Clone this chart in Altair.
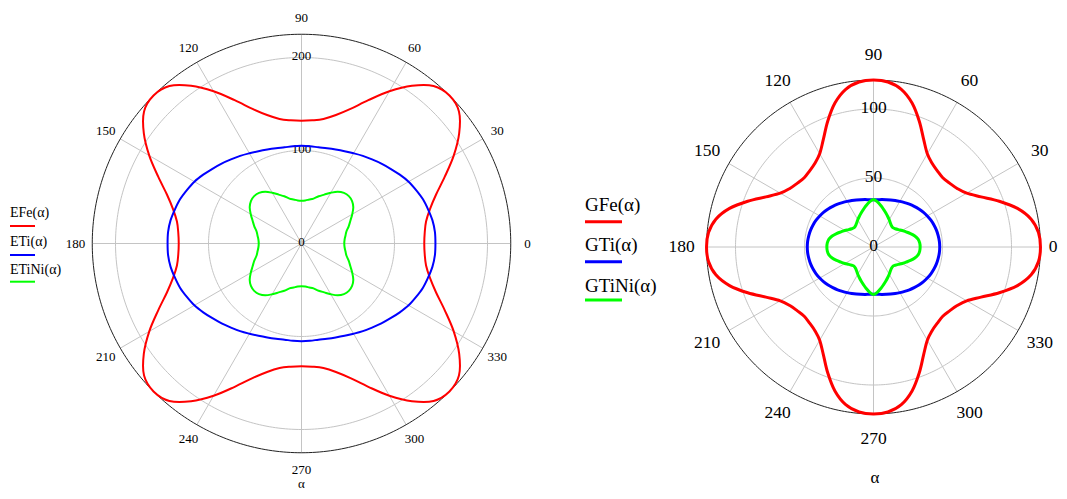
import altair as alt
import pandas as pd

# ---------------- data ----------------
angle_deg = list(range(0, 360, 5))

EFe = [132, 133, 136, 143, 154, 170, 189, 207, 221, 225, 221, 207, 189, 170, 154, 143, 136, 133,
       132, 133, 136, 143, 154, 170, 189, 207, 221, 225, 221, 207, 189, 170, 154, 143, 136, 133,
       132, 133, 136, 143, 154, 170, 189, 207, 221, 225, 221, 207, 189, 170, 154, 143, 136, 133,
       132, 133, 136, 143, 154, 170, 189, 207, 221, 225, 221, 207, 189, 170, 154, 143, 136, 133]

ETi = [144, 144, 143, 141, 139, 136, 133, 129, 125, 121.5, 118, 115, 112, 109.5, 107.5, 106, 105, 105,
       105, 105, 105, 106, 107.5, 109.5, 112, 115, 118, 121.5, 125, 129, 133, 136, 139, 141, 143, 144,
       144, 144, 143, 141, 139, 136, 133, 129, 125, 121.5, 118, 115, 112, 109.5, 107.5, 106, 105, 105,
       105, 105, 105, 106, 107.5, 109.5, 112, 115, 118, 121.5, 125, 129, 133, 136, 139, 141, 143, 144]

ETiNi = [46, 46.5, 48, 50, 54, 58, 63, 68, 71, 72, 71, 68, 63, 58, 54, 50, 48, 46.5,
         46, 46.5, 48, 50, 54, 58, 63, 68, 71, 72, 71, 68, 63, 58, 54, 50, 48, 46.5,
         46, 46.5, 48, 50, 54, 58, 63, 68, 71, 72, 71, 68, 63, 58, 54, 50, 48, 46.5,
         46, 46.5, 48, 50, 54, 58, 63, 68, 71, 72, 71, 68, 63, 58, 54, 50, 48, 46.5]

GFe = [121, 120, 116, 108, 97, 86, 78, 74, 72, 71, 72, 74, 78, 86, 97, 108, 116, 120,
       121, 120, 116, 108, 97, 86, 78, 74, 72, 71, 72, 74, 78, 86, 97, 108, 116, 120,
       121, 120, 116, 108, 97, 86, 78, 74, 72, 71, 72, 74, 78, 86, 97, 108, 116, 120,
       121, 120, 116, 108, 97, 86, 78, 74, 72, 71, 72, 74, 78, 86, 97, 108, 116, 120]

GTi = [48, 47.9, 47.6, 47.2, 46.6, 45.9, 45, 44, 42.9, 41.7, 40.5, 39.3, 38.2, 37.2, 36.3, 35.5, 34.9, 34.4,
       34.2, 34.4, 34.9, 35.5, 36.3, 37.2, 38.2, 39.3, 40.5, 41.7, 42.9, 44, 45, 45.9, 46.6, 47.2, 47.6, 47.9,
       48, 47.9, 47.6, 47.2, 46.6, 45.9, 45, 44, 42.9, 41.7, 40.5, 39.3, 38.2, 37.2, 36.3, 35.5, 34.9, 34.4,
       34.2, 34.4, 34.9, 35.5, 36.3, 37.2, 38.2, 39.3, 40.5, 41.7, 42.9, 44, 45, 45.9, 46.6, 47.2, 47.6, 47.9]

GTiNi = [33.8, 33.6, 32.8, 31, 28.5, 26, 24, 22, 20.6, 19.8, 20.2, 21.3, 22.8, 24.4, 26.2, 28.2, 30.5, 32.8,
         34.4, 32.8, 30.5, 28.2, 26.2, 24.4, 22.8, 21.3, 20.2, 19.8, 20.6, 22, 24, 26, 28.5, 31, 32.8, 33.6,
         33.8, 33.6, 32.8, 31, 28.5, 26, 24, 22, 20.6, 19.8, 20.2, 21.3, 22.8, 24.4, 26.2, 28.2, 30.5, 32.8,
         34.4, 32.8, 30.5, 28.2, 26.2, 24.4, 22.8, 21.3, 20.2, 19.8, 20.6, 22, 24, 26, 28.5, 31, 32.8, 33.6]

left_names = ["EFe(α)", "ETi(α)", "ETiNi(α)"]
right_names = ["GFe(α)", "GTi(α)", "GTiNi(α)"]
series_colors = ["#ff0000", "#0000ff", "#00ff00"]

angle_ticks = list(range(0, 360, 30))
left_rings = [100, 200]
right_rings = [50, 100]
left_rlabels = [0, 100, 200]
right_rlabels = [0, 50, 100]
left_rmax = 225
right_rmax = 121

# ---------------- layout / style ----------------
FONT = "Liberation Serif"
H = 483
GRID = "#c4c4c4"

left_cfg = dict(W=562, k=0.93, cx=293.5, cy=235.5, lw=2, label_px=226, fs=13, rdy=-2,
                lfs=14, lgx=2, lgx2=27, lty=[205, 233.7, 262], lly=[218, 247, 273.7], llw=2,
                ax=293.5, ay=483, abase="bottom", afs=13)
right_cfg = dict(W=489, k=1.38, cx=303.5, cy=239, lw=3, label_px=192, fs=17.5, rdy=-1,
                 lfs=19, lgx=15, lgx2=52, lty=[197, 237, 278], lly=[213.7, 253.7, 292], llw=3,
                 ax=305, ay=470, abase="middle", afs=17)


def panel(names, series, rmax, rings, rlabels, cfg):
    W, k, cx, cy = cfg["W"], cfg["k"], cfg["cx"], cfg["cy"]
    xs = alt.Scale(domain=[-cx / k, (W - cx) / k], nice=False, zero=False)
    ys = alt.Scale(domain=[-(H - cy) / k, cy / k], nice=False, zero=False)
    X = alt.X("x:Q", scale=xs, axis=None)
    Y = alt.Y("y:Q", scale=ys, axis=None)

    def circle(r, color, width):
        return alt.Chart(alt.sequence(0, 361, 1, as_="a")).transform_calculate(
            x=f"{r}*cos(datum.a*PI/180)", y=f"{r}*sin(datum.a*PI/180)"
        ).mark_line(color=color, strokeWidth=width).encode(x=X, y=Y, order="a:Q")

    layers = [circle(r, GRID, 1) for r in rings]

    spokes = alt.Chart(pd.DataFrame({"deg": angle_ticks})).transform_calculate(
        x="0", y="0",
        x2=f"{rmax}*cos(datum.deg*PI/180)", y2=f"{rmax}*sin(datum.deg*PI/180)"
    ).mark_rule(color=GRID, strokeWidth=1).encode(x=X, y=Y, x2="x2:Q", y2="y2:Q")
    layers.append(spokes)
    layers.append(circle(rmax, "#222222", 1))

    lr = cfg["label_px"] / k
    xlim = (W - cx - 6) / k  # keep the angle labels inside the panel
    alabels = alt.Chart(pd.DataFrame({"deg": angle_ticks})).transform_calculate(
        x=f"min({lr}*cos(datum.deg*PI/180), {xlim})", y=f"{lr}*sin(datum.deg*PI/180)"
    ).mark_text(font=FONT, fontSize=cfg["fs"], align="center", baseline="middle",
                color="#000000").encode(x=X, y=Y, text="deg:Q")
    layers.append(alabels)

    rl = alt.Chart(pd.DataFrame({"v": rlabels})).transform_calculate(
        x="0", y="datum.v"
    ).mark_text(font=FONT, fontSize=cfg["fs"], align="center", baseline="middle", dy=cfg["rdy"],
                color="#000000").encode(x=X, y=Y, text="v:Q")
    layers.append(rl)

    for name, vals, col in zip(names, series, series_colors):
        df = pd.DataFrame({"deg": angle_deg, "r": vals, "name": name})
        layers.append(
            alt.Chart(df).transform_calculate(
                x="datum.r*cos(datum.deg*PI/180)", y="datum.r*sin(datum.deg*PI/180)"
            ).mark_line(interpolate="cardinal-closed", color=col, strokeWidth=cfg["lw"]).encode(
                x=X, y=Y, order="deg:Q")
        )

    for i, (name, col) in enumerate(zip(names, series_colors)):
        d = pd.DataFrame({"label": [name]})
        layers.append(
            alt.Chart(d).mark_text(font=FONT, fontSize=cfg["lfs"], align="left", baseline="middle",
                                   color="#000000").encode(
                x=alt.value(cfg["lgx"]), y=alt.value(cfg["lty"][i]), text="label:N")
        )
        layers.append(
            alt.Chart(d).mark_rule(color=col, strokeWidth=cfg["llw"]).encode(
                x=alt.value(cfg["lgx"]), x2=alt.value(cfg["lgx2"]), y=alt.value(cfg["lly"][i]))
        )

    layers.append(
        alt.Chart(pd.DataFrame({"t": ["α"]})).mark_text(font=FONT, fontSize=cfg["afs"], align="center",
                                                         baseline=cfg["abase"], color="#000000").encode(
            x=alt.value(cfg["ax"]), y=alt.value(cfg["ay"]), text="t:N")
    )
    return alt.layer(*layers).properties(width=W, height=H)


left = panel(left_names, [EFe, ETi, ETiNi], left_rmax, left_rings, left_rlabels, left_cfg)
right = panel(right_names, [GFe, GTi, GTiNi], right_rmax, right_rings, right_rlabels, right_cfg)

chart = alt.hconcat(left, right, spacing=0, bounds="flush", padding=0).configure_view(stroke=None)

chart.save("out.html", embed_options={"renderer": "svg", "actions": False})
